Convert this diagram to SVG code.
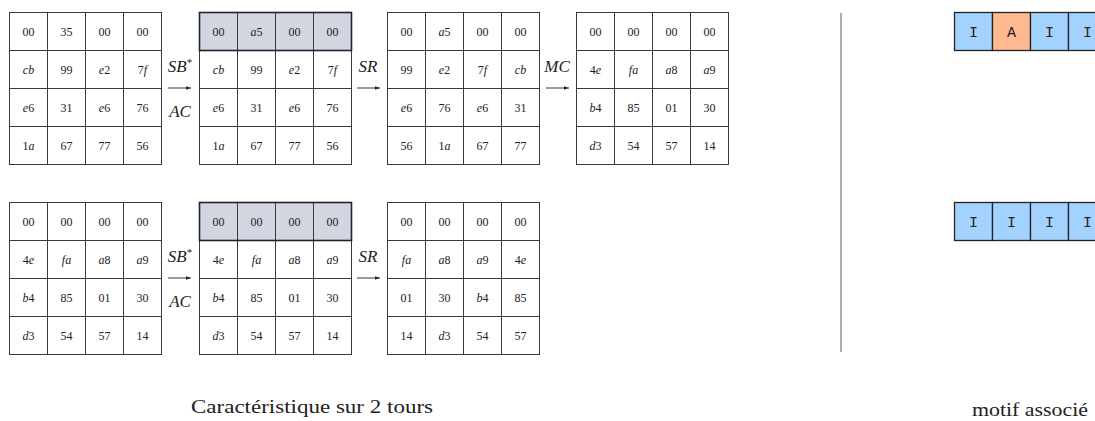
<svg xmlns="http://www.w3.org/2000/svg" width="1095" height="421" viewBox="0 0 1095 421">
<style>
.cell{fill:#fff;stroke:#3a3a3a;stroke-width:1}
.sh{fill:#d3d6e1;stroke:#3a3a3a;stroke-width:1}
.shb{fill:none;stroke:#1c2333;stroke-width:1.6}
.t{font-family:'Liberation Serif','DejaVu Serif','Times New Roman',serif;font-size:12px;fill:#222;text-anchor:middle}
.i{font-style:italic}
.lab{font-family:'Liberation Serif','DejaVu Serif','Times New Roman',serif;font-style:italic;font-size:17px;fill:#222;text-anchor:middle}
.cap{font-family:'Liberation Serif','DejaVu Serif','Times New Roman',serif;font-size:18px;fill:#222}
.mI{fill:#a3d2ff;stroke:#222;stroke-width:1.3}
.mA{fill:#ffb990;stroke:#222;stroke-width:1.3}
.mt{font-family:'Liberation Mono','DejaVu Sans Mono',monospace;font-size:15px;fill:#222;text-anchor:middle}
.ar{stroke:#222;stroke-width:0.9;fill:none;marker-end:url(#ah)}
</style>
<defs>
<marker id="ah" viewBox="0 0 6 6" refX="6" refY="3" markerWidth="5" markerHeight="5" markerUnits="userSpaceOnUse" orient="auto">
<path d="M0,0.8 L6,3 L0,5.2 z" fill="#222"/>
</marker>
</defs>

<g id="m1">
<rect class="cell" x="9.5" y="12.5" width="38" height="38"/><rect class="cell" x="47.5" y="12.5" width="38" height="38"/><rect class="cell" x="85.5" y="12.5" width="38" height="38"/><rect class="cell" x="123.5" y="12.5" width="38" height="38"/>
<rect class="cell" x="9.5" y="50.5" width="38" height="38"/><rect class="cell" x="47.5" y="50.5" width="38" height="38"/><rect class="cell" x="85.5" y="50.5" width="38" height="38"/><rect class="cell" x="123.5" y="50.5" width="38" height="38"/>
<rect class="cell" x="9.5" y="88.5" width="38" height="38"/><rect class="cell" x="47.5" y="88.5" width="38" height="38"/><rect class="cell" x="85.5" y="88.5" width="38" height="38"/><rect class="cell" x="123.5" y="88.5" width="38" height="38"/>
<rect class="cell" x="9.5" y="126.5" width="38" height="38"/><rect class="cell" x="47.5" y="126.5" width="38" height="38"/><rect class="cell" x="85.5" y="126.5" width="38" height="38"/><rect class="cell" x="123.5" y="126.5" width="38" height="38"/>
<text class="t" x="28.5" y="35.5">00</text><text class="t" x="66.5" y="35.5">35</text><text class="t" x="104.5" y="35.5">00</text><text class="t" x="142.5" y="35.5">00</text>
<text class="t" x="28.5" y="73.5"><tspan class="i">cb</tspan></text><text class="t" x="66.5" y="73.5">99</text><text class="t" x="104.5" y="73.5"><tspan class="i">e</tspan>2</text><text class="t" x="142.5" y="73.5">7<tspan class="i">f</tspan></text>
<text class="t" x="28.5" y="111.5"><tspan class="i">e</tspan>6</text><text class="t" x="66.5" y="111.5">31</text><text class="t" x="104.5" y="111.5"><tspan class="i">e</tspan>6</text><text class="t" x="142.5" y="111.5">76</text>
<text class="t" x="28.5" y="149.5">1<tspan class="i">a</tspan></text><text class="t" x="66.5" y="149.5">67</text><text class="t" x="104.5" y="149.5">77</text><text class="t" x="142.5" y="149.5">56</text>
</g>

<g id="m2">
<rect class="sh" x="199.5" y="12.5" width="38" height="38"/><rect class="sh" x="237.5" y="12.5" width="38" height="38"/><rect class="sh" x="275.5" y="12.5" width="38" height="38"/><rect class="sh" x="313.5" y="12.5" width="38" height="38"/>
<rect class="cell" x="199.5" y="50.5" width="38" height="38"/><rect class="cell" x="237.5" y="50.5" width="38" height="38"/><rect class="cell" x="275.5" y="50.5" width="38" height="38"/><rect class="cell" x="313.5" y="50.5" width="38" height="38"/>
<rect class="cell" x="199.5" y="88.5" width="38" height="38"/><rect class="cell" x="237.5" y="88.5" width="38" height="38"/><rect class="cell" x="275.5" y="88.5" width="38" height="38"/><rect class="cell" x="313.5" y="88.5" width="38" height="38"/>
<rect class="cell" x="199.5" y="126.5" width="38" height="38"/><rect class="cell" x="237.5" y="126.5" width="38" height="38"/><rect class="cell" x="275.5" y="126.5" width="38" height="38"/><rect class="cell" x="313.5" y="126.5" width="38" height="38"/>
<rect class="shb" x="199.5" y="12.5" width="152" height="38"/>
<text class="t" x="218.5" y="35.5">00</text><text class="t" x="256.5" y="35.5"><tspan class="i">a</tspan>5</text><text class="t" x="294.5" y="35.5">00</text><text class="t" x="332.5" y="35.5">00</text>
<text class="t" x="218.5" y="73.5"><tspan class="i">cb</tspan></text><text class="t" x="256.5" y="73.5">99</text><text class="t" x="294.5" y="73.5"><tspan class="i">e</tspan>2</text><text class="t" x="332.5" y="73.5">7<tspan class="i">f</tspan></text>
<text class="t" x="218.5" y="111.5"><tspan class="i">e</tspan>6</text><text class="t" x="256.5" y="111.5">31</text><text class="t" x="294.5" y="111.5"><tspan class="i">e</tspan>6</text><text class="t" x="332.5" y="111.5">76</text>
<text class="t" x="218.5" y="149.5">1<tspan class="i">a</tspan></text><text class="t" x="256.5" y="149.5">67</text><text class="t" x="294.5" y="149.5">77</text><text class="t" x="332.5" y="149.5">56</text>
</g>

<g id="m3">
<rect class="cell" x="387.5" y="12.5" width="38" height="38"/><rect class="cell" x="425.5" y="12.5" width="38" height="38"/><rect class="cell" x="463.5" y="12.5" width="38" height="38"/><rect class="cell" x="501.5" y="12.5" width="38" height="38"/>
<rect class="cell" x="387.5" y="50.5" width="38" height="38"/><rect class="cell" x="425.5" y="50.5" width="38" height="38"/><rect class="cell" x="463.5" y="50.5" width="38" height="38"/><rect class="cell" x="501.5" y="50.5" width="38" height="38"/>
<rect class="cell" x="387.5" y="88.5" width="38" height="38"/><rect class="cell" x="425.5" y="88.5" width="38" height="38"/><rect class="cell" x="463.5" y="88.5" width="38" height="38"/><rect class="cell" x="501.5" y="88.5" width="38" height="38"/>
<rect class="cell" x="387.5" y="126.5" width="38" height="38"/><rect class="cell" x="425.5" y="126.5" width="38" height="38"/><rect class="cell" x="463.5" y="126.5" width="38" height="38"/><rect class="cell" x="501.5" y="126.5" width="38" height="38"/>
<text class="t" x="406.5" y="35.5">00</text><text class="t" x="444.5" y="35.5"><tspan class="i">a</tspan>5</text><text class="t" x="482.5" y="35.5">00</text><text class="t" x="520.5" y="35.5">00</text>
<text class="t" x="406.5" y="73.5">99</text><text class="t" x="444.5" y="73.5"><tspan class="i">e</tspan>2</text><text class="t" x="482.5" y="73.5">7<tspan class="i">f</tspan></text><text class="t" x="520.5" y="73.5"><tspan class="i">cb</tspan></text>
<text class="t" x="406.5" y="111.5"><tspan class="i">e</tspan>6</text><text class="t" x="444.5" y="111.5">76</text><text class="t" x="482.5" y="111.5"><tspan class="i">e</tspan>6</text><text class="t" x="520.5" y="111.5">31</text>
<text class="t" x="406.5" y="149.5">56</text><text class="t" x="444.5" y="149.5">1<tspan class="i">a</tspan></text><text class="t" x="482.5" y="149.5">67</text><text class="t" x="520.5" y="149.5">77</text>
</g>

<g id="m4">
<rect class="cell" x="576.5" y="12.5" width="38" height="38"/><rect class="cell" x="614.5" y="12.5" width="38" height="38"/><rect class="cell" x="652.5" y="12.5" width="38" height="38"/><rect class="cell" x="690.5" y="12.5" width="38" height="38"/>
<rect class="cell" x="576.5" y="50.5" width="38" height="38"/><rect class="cell" x="614.5" y="50.5" width="38" height="38"/><rect class="cell" x="652.5" y="50.5" width="38" height="38"/><rect class="cell" x="690.5" y="50.5" width="38" height="38"/>
<rect class="cell" x="576.5" y="88.5" width="38" height="38"/><rect class="cell" x="614.5" y="88.5" width="38" height="38"/><rect class="cell" x="652.5" y="88.5" width="38" height="38"/><rect class="cell" x="690.5" y="88.5" width="38" height="38"/>
<rect class="cell" x="576.5" y="126.5" width="38" height="38"/><rect class="cell" x="614.5" y="126.5" width="38" height="38"/><rect class="cell" x="652.5" y="126.5" width="38" height="38"/><rect class="cell" x="690.5" y="126.5" width="38" height="38"/>
<text class="t" x="595.5" y="35.5">00</text><text class="t" x="633.5" y="35.5">00</text><text class="t" x="671.5" y="35.5">00</text><text class="t" x="709.5" y="35.5">00</text>
<text class="t" x="595.5" y="73.5">4<tspan class="i">e</tspan></text><text class="t" x="633.5" y="73.5"><tspan class="i">fa</tspan></text><text class="t" x="671.5" y="73.5"><tspan class="i">a</tspan>8</text><text class="t" x="709.5" y="73.5"><tspan class="i">a</tspan>9</text>
<text class="t" x="595.5" y="111.5"><tspan class="i">b</tspan>4</text><text class="t" x="633.5" y="111.5">85</text><text class="t" x="671.5" y="111.5">01</text><text class="t" x="709.5" y="111.5">30</text>
<text class="t" x="595.5" y="149.5"><tspan class="i">d</tspan>3</text><text class="t" x="633.5" y="149.5">54</text><text class="t" x="671.5" y="149.5">57</text><text class="t" x="709.5" y="149.5">14</text>
</g>

<g id="b1">
<rect class="cell" x="9.5" y="202.5" width="38" height="38"/><rect class="cell" x="47.5" y="202.5" width="38" height="38"/><rect class="cell" x="85.5" y="202.5" width="38" height="38"/><rect class="cell" x="123.5" y="202.5" width="38" height="38"/>
<rect class="cell" x="9.5" y="240.5" width="38" height="38"/><rect class="cell" x="47.5" y="240.5" width="38" height="38"/><rect class="cell" x="85.5" y="240.5" width="38" height="38"/><rect class="cell" x="123.5" y="240.5" width="38" height="38"/>
<rect class="cell" x="9.5" y="278.5" width="38" height="38"/><rect class="cell" x="47.5" y="278.5" width="38" height="38"/><rect class="cell" x="85.5" y="278.5" width="38" height="38"/><rect class="cell" x="123.5" y="278.5" width="38" height="38"/>
<rect class="cell" x="9.5" y="316.5" width="38" height="38"/><rect class="cell" x="47.5" y="316.5" width="38" height="38"/><rect class="cell" x="85.5" y="316.5" width="38" height="38"/><rect class="cell" x="123.5" y="316.5" width="38" height="38"/>
<text class="t" x="28.5" y="225.5">00</text><text class="t" x="66.5" y="225.5">00</text><text class="t" x="104.5" y="225.5">00</text><text class="t" x="142.5" y="225.5">00</text>
<text class="t" x="28.5" y="263.5">4<tspan class="i">e</tspan></text><text class="t" x="66.5" y="263.5"><tspan class="i">fa</tspan></text><text class="t" x="104.5" y="263.5"><tspan class="i">a</tspan>8</text><text class="t" x="142.5" y="263.5"><tspan class="i">a</tspan>9</text>
<text class="t" x="28.5" y="301.5"><tspan class="i">b</tspan>4</text><text class="t" x="66.5" y="301.5">85</text><text class="t" x="104.5" y="301.5">01</text><text class="t" x="142.5" y="301.5">30</text>
<text class="t" x="28.5" y="339.5"><tspan class="i">d</tspan>3</text><text class="t" x="66.5" y="339.5">54</text><text class="t" x="104.5" y="339.5">57</text><text class="t" x="142.5" y="339.5">14</text>
</g>

<g id="b2">
<rect class="sh" x="199.5" y="202.5" width="38" height="38"/><rect class="sh" x="237.5" y="202.5" width="38" height="38"/><rect class="sh" x="275.5" y="202.5" width="38" height="38"/><rect class="sh" x="313.5" y="202.5" width="38" height="38"/>
<rect class="cell" x="199.5" y="240.5" width="38" height="38"/><rect class="cell" x="237.5" y="240.5" width="38" height="38"/><rect class="cell" x="275.5" y="240.5" width="38" height="38"/><rect class="cell" x="313.5" y="240.5" width="38" height="38"/>
<rect class="cell" x="199.5" y="278.5" width="38" height="38"/><rect class="cell" x="237.5" y="278.5" width="38" height="38"/><rect class="cell" x="275.5" y="278.5" width="38" height="38"/><rect class="cell" x="313.5" y="278.5" width="38" height="38"/>
<rect class="cell" x="199.5" y="316.5" width="38" height="38"/><rect class="cell" x="237.5" y="316.5" width="38" height="38"/><rect class="cell" x="275.5" y="316.5" width="38" height="38"/><rect class="cell" x="313.5" y="316.5" width="38" height="38"/>
<rect class="shb" x="199.5" y="202.5" width="152" height="38"/>
<text class="t" x="218.5" y="225.5">00</text><text class="t" x="256.5" y="225.5">00</text><text class="t" x="294.5" y="225.5">00</text><text class="t" x="332.5" y="225.5">00</text>
<text class="t" x="218.5" y="263.5">4<tspan class="i">e</tspan></text><text class="t" x="256.5" y="263.5"><tspan class="i">fa</tspan></text><text class="t" x="294.5" y="263.5"><tspan class="i">a</tspan>8</text><text class="t" x="332.5" y="263.5"><tspan class="i">a</tspan>9</text>
<text class="t" x="218.5" y="301.5"><tspan class="i">b</tspan>4</text><text class="t" x="256.5" y="301.5">85</text><text class="t" x="294.5" y="301.5">01</text><text class="t" x="332.5" y="301.5">30</text>
<text class="t" x="218.5" y="339.5"><tspan class="i">d</tspan>3</text><text class="t" x="256.5" y="339.5">54</text><text class="t" x="294.5" y="339.5">57</text><text class="t" x="332.5" y="339.5">14</text>
</g>

<g id="b3">
<rect class="cell" x="387.5" y="202.5" width="38" height="38"/><rect class="cell" x="425.5" y="202.5" width="38" height="38"/><rect class="cell" x="463.5" y="202.5" width="38" height="38"/><rect class="cell" x="501.5" y="202.5" width="38" height="38"/>
<rect class="cell" x="387.5" y="240.5" width="38" height="38"/><rect class="cell" x="425.5" y="240.5" width="38" height="38"/><rect class="cell" x="463.5" y="240.5" width="38" height="38"/><rect class="cell" x="501.5" y="240.5" width="38" height="38"/>
<rect class="cell" x="387.5" y="278.5" width="38" height="38"/><rect class="cell" x="425.5" y="278.5" width="38" height="38"/><rect class="cell" x="463.5" y="278.5" width="38" height="38"/><rect class="cell" x="501.5" y="278.5" width="38" height="38"/>
<rect class="cell" x="387.5" y="316.5" width="38" height="38"/><rect class="cell" x="425.5" y="316.5" width="38" height="38"/><rect class="cell" x="463.5" y="316.5" width="38" height="38"/><rect class="cell" x="501.5" y="316.5" width="38" height="38"/>
<text class="t" x="406.5" y="225.5">00</text><text class="t" x="444.5" y="225.5">00</text><text class="t" x="482.5" y="225.5">00</text><text class="t" x="520.5" y="225.5">00</text>
<text class="t" x="406.5" y="263.5"><tspan class="i">fa</tspan></text><text class="t" x="444.5" y="263.5"><tspan class="i">a</tspan>8</text><text class="t" x="482.5" y="263.5"><tspan class="i">a</tspan>9</text><text class="t" x="520.5" y="263.5">4<tspan class="i">e</tspan></text>
<text class="t" x="406.5" y="301.5">01</text><text class="t" x="444.5" y="301.5">30</text><text class="t" x="482.5" y="301.5"><tspan class="i">b</tspan>4</text><text class="t" x="520.5" y="301.5">85</text>
<text class="t" x="406.5" y="339.5">14</text><text class="t" x="444.5" y="339.5"><tspan class="i">d</tspan>3</text><text class="t" x="482.5" y="339.5">54</text><text class="t" x="520.5" y="339.5">57</text>
</g>

<g id="connectors">
<line class="ar" x1="168" y1="88" x2="191" y2="88"/>
<line class="ar" x1="357" y1="88" x2="380" y2="88"/>
<line class="ar" x1="546" y1="88" x2="569" y2="88"/>
<line class="ar" x1="168" y1="278" x2="191" y2="278"/>
<line class="ar" x1="357" y1="278" x2="380" y2="278"/>
</g>

<g id="labels">
<text class="lab" x="180" y="72">SB<tspan font-size="11" dy="-6" font-style="normal">*</tspan></text>
<text class="lab" x="180" y="117">AC</text>
<text class="lab" x="368" y="72">SR</text>
<text class="lab" x="557" y="72">MC</text>
<text class="lab" x="180" y="262">SB<tspan font-size="11" dy="-6" font-style="normal">*</tspan></text>
<text class="lab" x="180" y="307">AC</text>
<text class="lab" x="368" y="262">SR</text>
</g>

<line id="separator" x1="841" y1="13" x2="841" y2="352" stroke="#777" stroke-width="1.2"/>

<g id="motif1">
<rect class="mI" x="954.5" y="12.5" width="38" height="38"/>
<rect class="mA" x="992.5" y="12.5" width="38" height="38"/>
<rect class="mI" x="1030.5" y="12.5" width="38" height="38"/>
<rect class="mI" x="1068.5" y="12.5" width="38" height="38"/>
<text class="mt" x="973.5" y="36.5">I</text><text class="mt" x="1011.5" y="36.5">A</text><text class="mt" x="1049.5" y="36.5">I</text><text class="mt" x="1087.5" y="36.5">I</text>
</g>
<g id="motif2">
<rect class="mI" x="954.5" y="202.5" width="38" height="38"/>
<rect class="mI" x="992.5" y="202.5" width="38" height="38"/>
<rect class="mI" x="1030.5" y="202.5" width="38" height="38"/>
<rect class="mI" x="1068.5" y="202.5" width="38" height="38"/>
<text class="mt" x="973.5" y="226.5">I</text><text class="mt" x="1011.5" y="226.5">I</text><text class="mt" x="1049.5" y="226.5">I</text><text class="mt" x="1087.5" y="226.5">I</text>
</g>

<text class="cap" x="191" y="413" textLength="242" lengthAdjust="spacingAndGlyphs">Caractéristique sur 2 tours</text>
<text class="cap" x="972" y="416" textLength="116" lengthAdjust="spacingAndGlyphs">motif associé</text>
</svg>
